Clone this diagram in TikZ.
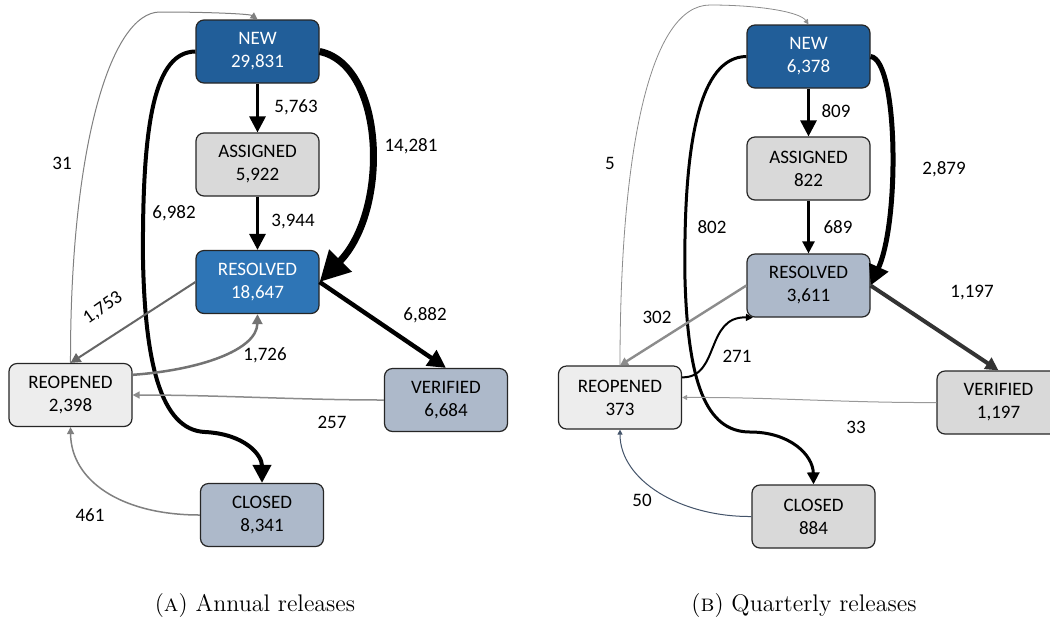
\documentclass[tikz,border=0pt]{standalone}
\usepackage{fontspec}
\newfontfamily\calib{Carlito}
\usepackage{tikz}
\usetikzlibrary{arrows.meta}
\definecolor{newC}{HTML}{215E99}
\definecolor{resC}{HTML}{2E75B6}
\definecolor{grayC}{HTML}{D9D9D9}
\definecolor{lightC}{HTML}{EDEDED}
\definecolor{slateC}{HTML}{ADB9CA}
\definecolor{edgeC}{HTML}{44546A}
\tikzset{
  boxN/.style={ draw=black!85, line width=0.6pt, rounded corners=4pt, minimum width=61.5pt, minimum height=31.5pt, align=center, font=\calib\fontsize{9.5}{11.5}\selectfont }
}
\tikzset{
  boxNew/.style={ boxN, fill=newC, text=white },
  boxRes/.style={ boxN, fill=resC, text=white },
  boxGray/.style={ boxN, fill=grayC },
  boxLight/.style={ boxN, fill=lightC },
  boxSlate/.style={ boxN, fill=slateC }
}
\tikzset{
  fl/.style args={#1 and #2}{ line width=#1, -{Triangle[length=#2, width=#2]} },
  lbl/.style={ font=\calib\fontsize{9.5}{11.5}\selectfont, inner sep=1pt },
  captxt/.style={ font=\fontsize{12}{14}\selectfont, inner sep=0pt }
}

\begin{document}
\begin{tikzpicture}[x=0.5pt, y=-0.5pt]
        \useasboundingbox[fill=white] (0,0) rectangle (1050,623);
        \clip (0,0) rectangle (1050,623);
        % annual releases
        \node[boxNew] (new0) at (257.5, 51.5) {NEW\\29,831};
        \node[boxGray] (asg0) at (257.5, 164.5) {ASSIGNED\\5,922};
        \node[boxRes] (res0) at (257.5, 282) {RESOLVED\\18,647};
        \node[boxLight] (reo0) at (70.5, 395) {REOPENED\\2,398};
        \node[boxSlate] (ver0) at (446, 400) {VERIFIED\\6,684};
        \node[boxSlate] (clo0) at (262, 515) {CLOSED\\8,341};
        \draw[fl={1.5pt and 8pt}] (new0) -- (asg0);
        \draw[fl={1.5pt and 8pt}] (asg0) -- (res0);
        \draw[fl={3.5pt and 15pt}] (new0.east) .. controls (385,65) and (390,210) .. (res0.east);
        \draw[fl={2pt and 9pt}] (new0.west) .. controls (155,52) and (142,120) .. (143,260) .. controls (145,360) and (160,430) .. (205,432) .. controls (245,434) and (262,455) .. (clo0.north);
        \draw[fl={1pt and 5pt}, black!60] (res0.west) -- (reo0.north);
        \draw[fl={1.25pt and 5pt}, black!55] (reo0.18) .. controls (200,370) and (257,350) .. (res0.south);
        \draw[fl={2.2pt and 9pt}] (res0.east) -- (ver0.north);
        \draw[fl={0.75pt and 3.5pt}, black!45] (ver0.west) .. controls (300,400) and (220,395) .. (reo0.east);
        \draw[fl={0.75pt and 3.5pt}, black!50] (clo0.west) .. controls (120,515) and (71,480) .. (reo0.south);
        \draw[fl={0.5pt and 3.5pt}, black!50] (reo0.north) .. controls (70,150) and (110,12) .. (160,12) .. controls (210,12) and (250,14) .. (new0.north);
        \node[lbl] (k01) at (296,107) {5,763};
        \node[lbl] (k02) at (293,222) {3,944};
        \node[lbl] (k03) at (411,146) {14,281};
        \node[lbl] (k04) at (174,213) {6,982};
        \node[lbl, rotate=35] (k05) at (103,308) {1,753};
        \node[lbl] (k06) at (265,355) {1,726};
        \node[lbl] (k07) at (425,315) {6,882};
        \node[lbl] (k08) at (332,422) {257};
        \node[lbl] (k09) at (90,515) {461};
        \node[lbl] (k10) at (62,163) {31};
        \node[captxt] (capA) at (255,605) {(\textsc{a})~Annual releases};
        % quarterly releases
        \node[boxNew] (new1) at (808.5, 56.5) {NEW\\6,378};
        \node[boxGray] (asg1) at (808.5, 168.5) {ASSIGNED\\822};
        \node[boxSlate] (res1) at (808.5, 285.5) {RESOLVED\\3,611};
        \node[boxLight] (reo1) at (620, 397.5) {REOPENED\\373};
        \node[boxGray] (ver1) at (998.5, 402.5) {VERIFIED\\1,197};
        \node[boxGray] (clo1) at (813.5, 516.5) {CLOSED\\884};
        \draw[fl={1.5pt and 8pt}] (new1) -- (asg1);
        \draw[fl={1.2pt and 6pt}] (asg1) -- (res1);
        \draw[fl={2.5pt and 10pt}] (new1.east) .. controls (898,60) and (900,220) .. (res1.east);
        \draw[fl={1.5pt and 6pt}] (new1.west) .. controls (700,57) and (683,140) .. (685,280) .. controls (688,380) and (705,432) .. (750,432) .. controls (790,432) and (813,455) .. (clo1.north);
        \draw[fl={1.2pt and 4pt}, black!45] (res1.west) -- (reo1.north);
        \draw[fl={1pt and 3.5pt}] (reo1.18) .. controls (720,378) and (705,316) .. (res1.-150);
        \draw[fl={2pt and 6.5pt}, black!80] (res1.east) -- (ver1.north);
        \draw[fl={0.5pt and 2.5pt}, black!40] (ver1.west) .. controls (850,403) and (770,397) .. (reo1.east);
        \draw[fl={0.5pt and 2.5pt}, edgeC] (clo1.west) .. controls (680,517) and (620,480) .. (reo1.south);
        \draw[fl={0.4pt and 2.5pt}, black!45] (reo1.north) .. controls (620,150) and (650,5) .. (710,5) .. controls (760,5) and (800,12) .. (new1.north);
        \node[lbl] (k11) at (836,111) {809};
        \node[lbl] (k12) at (838,227) {689};
        \node[lbl] (k13) at (944,169) {2,879};
        \node[lbl] (k14) at (712,227) {802};
        \node[lbl] (k15) at (657,317) {302};
        \node[lbl] (k16) at (737,356) {271};
        \node[lbl] (k17) at (972,293) {1,197};
        \node[lbl] (k18) at (856,427) {33};
        \node[lbl] (k19) at (642,500) {50};
        \node[lbl] (k20) at (610,163) {5};
        \node[captxt] (capB) at (804,605) {(\textsc{b})~Quarterly releases};
      \end{tikzpicture}
\end{document}
